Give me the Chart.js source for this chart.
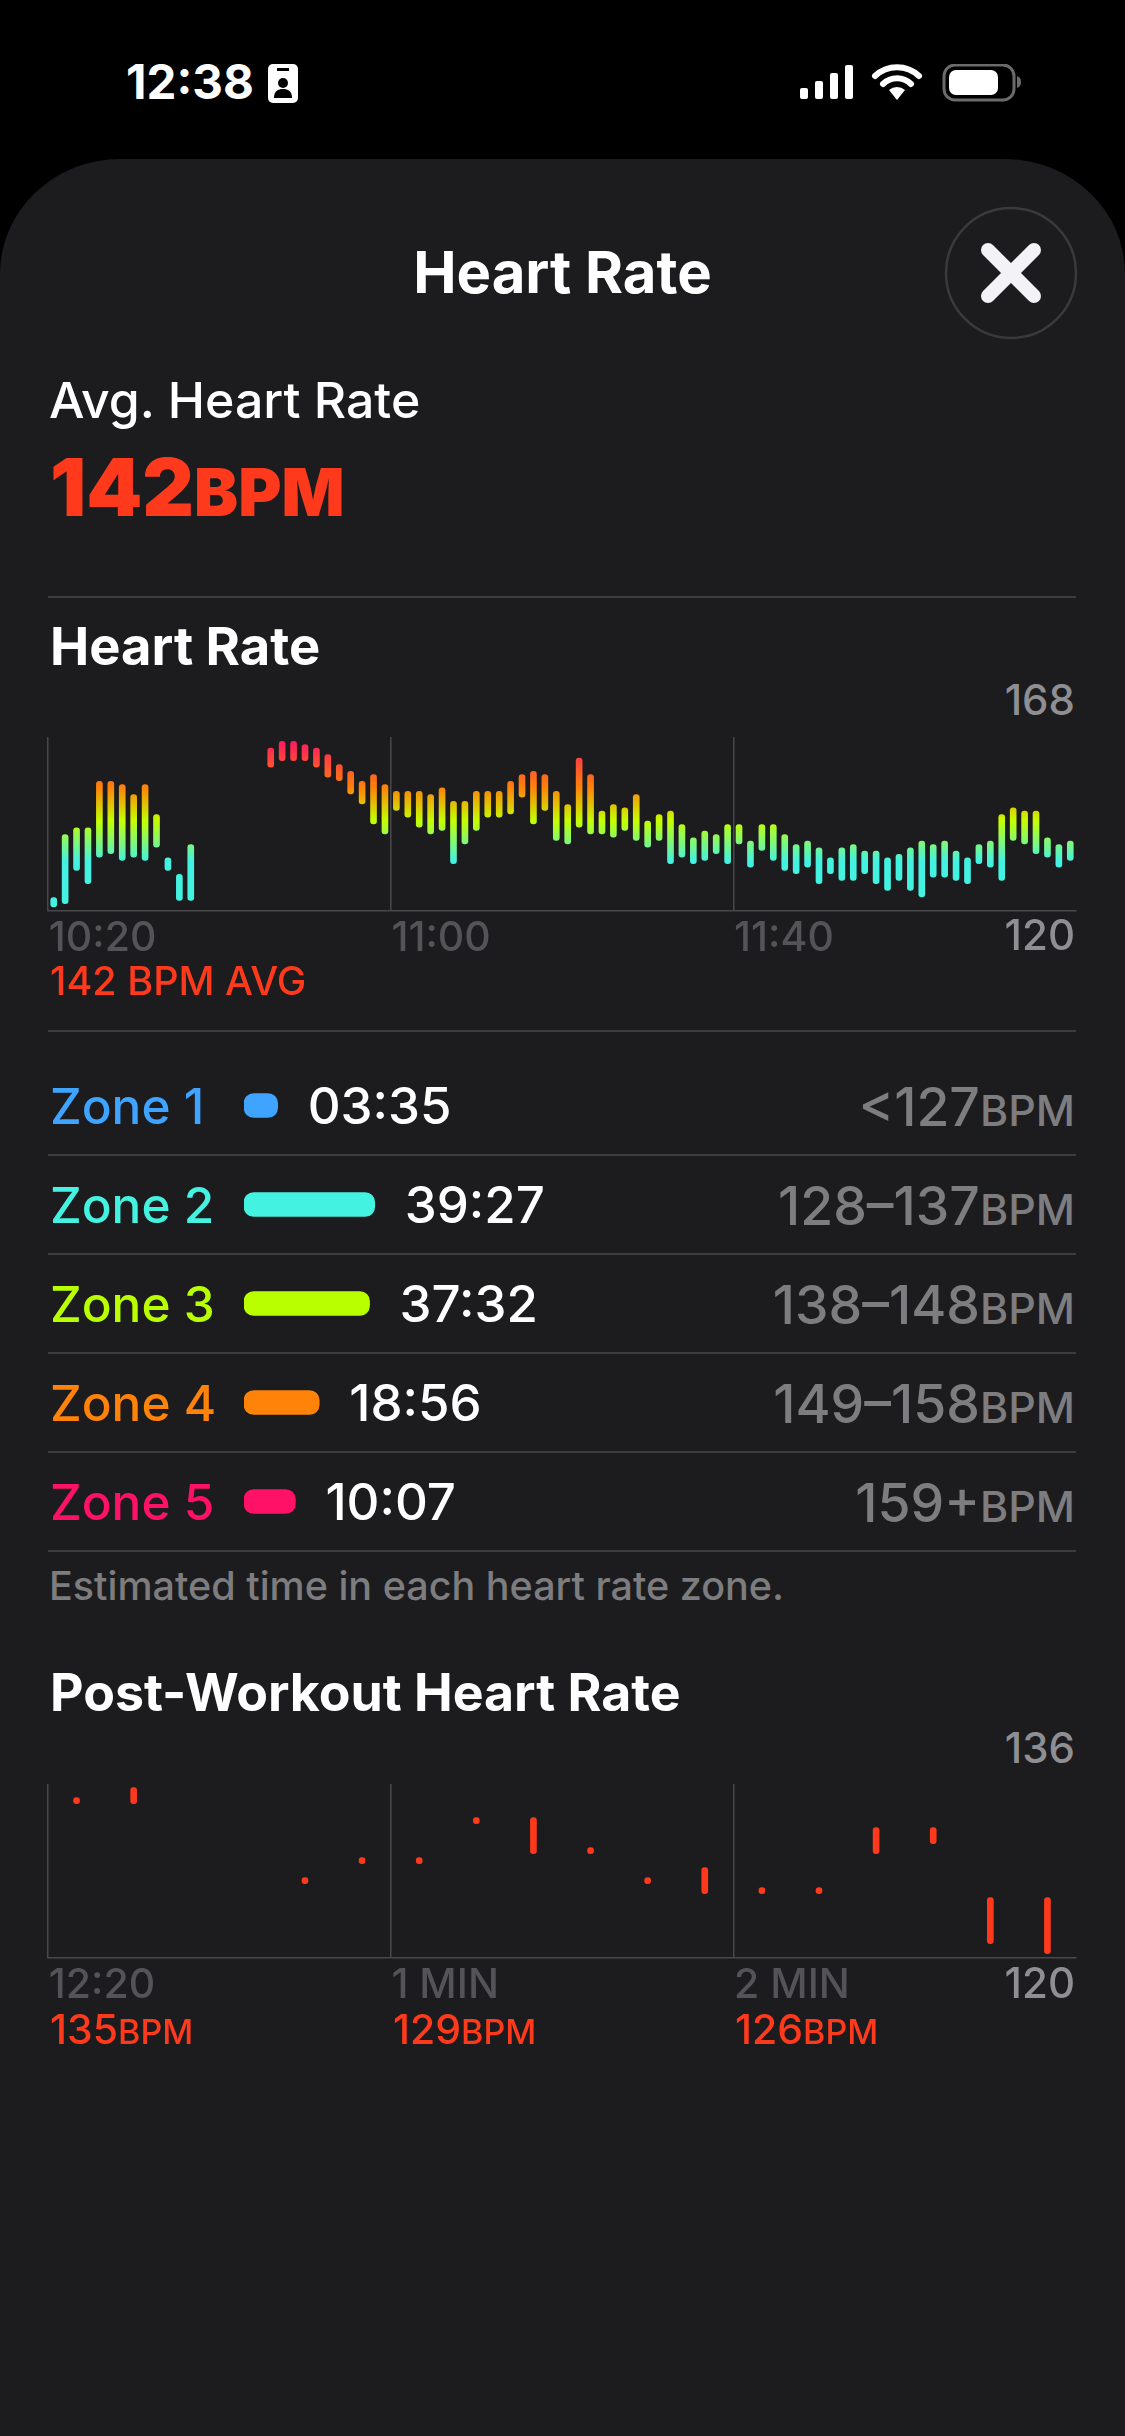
<!DOCTYPE html>
<html lang="en">
<head>
  <meta charset="UTF-8">
  <title>Heart Rate</title>
  <script src="https://cdn.jsdelivr.net/npm/chart.js"></script>
  <style>
    * { margin: 0; padding: 0; box-sizing: border-box; }
    html, body { width: 1125px; height: 2436px; background: #000; overflow: hidden; font-family: Inter, "Noto Sans", sans-serif; color: #fff; }
    .abs { position: absolute; line-height: 1; white-space: nowrap; }
    .sheet { position: absolute; left: 0; top: 159px; width: 1125px; height: 2277px; background: #1c1c1e; border-radius: 120px 120px 0 0 / 115px 115px 0 0; }
    .rule { position: absolute; left: 48px; width: 1028px; height: 1.5px; background: #3c3c3f; }
    .head { font-size: 52.5px; font-weight: 700; left: 50px; }
    .axis-num { font-size: 42px; font-weight: 500; color: #8e8e93; right: 50px; }
    .red { color: #ff3a1c; font-weight: 500; }
    .chart { position: absolute; left: 0; }
    .zone-name { font-size: 49.5px; font-weight: 500; left: 50px; }
    .zone-range { font-size: 53.5px; font-weight: 500; right: 50px; color: #7d7d80; }
    .zone-range small { font-size: 43px; }
  </style>
</head>
<body>
  <!-- status bar -->
  <div class="abs" style="left:126px;top:58px;font-size:47.5px;font-weight:700;">12:38</div>
  <svg class="abs" style="left:268px;top:64px;" width="30" height="39" viewBox="0 0 30 39">
    <rect width="30" height="39" rx="5" fill="#fff"/>
    <rect x="9" y="4" width="12" height="3" fill="#000"/>
    <circle cx="15" cy="19" r="5" fill="#000"/>
    <path d="M6 34c0-7 4-9 9-9s9 2 9 9z" fill="#000"/>
  </svg>
  <svg class="abs" style="left:798px;top:64px;" width="226" height="38" viewBox="0 0 226 38">
    <rect x="2" y="24" width="8" height="11" rx="2" fill="#fff"/>
    <rect x="17" y="17" width="8" height="18" rx="2" fill="#fff"/>
    <rect x="32" y="9" width="8" height="26" rx="2" fill="#fff"/>
    <rect x="47" y="1" width="8" height="34" rx="2" fill="#fff"/>
    <path d="M77 12a32 32 0 0 1 44 0M85 20a20 20 0 0 1 28 0" fill="none" stroke="#fff" stroke-width="6" stroke-linecap="round"/>
    <path d="M99 36l-8-10a12 12 0 0 1 16 0z" fill="#fff"/>
    <rect x="146" y="1" width="70" height="35" rx="11" fill="none" stroke="#6b6b6b" stroke-width="3"/>
    <rect x="151" y="6" width="49" height="25" rx="7" fill="#fff"/>
    <path d="M219 12c3 1 4 3 4 6s-1 5-4 6z" fill="#6b6b6b"/>
  </svg>

  <div class="sheet"></div>

  <div class="abs" style="left:0;width:1125px;text-align:center;top:243px;font-size:58px;font-weight:700;">Heart Rate</div>
  <svg class="abs" style="left:944px;top:206px;" width="134" height="134" viewBox="0 0 134 134">
    <circle cx="67" cy="67" r="65" fill="#1c1c1e" stroke="#3a3a3c" stroke-width="2.5"/>
    <path d="M44 44L90 90M90 44L44 90" stroke="#f2f2f7" stroke-width="14" stroke-linecap="round"/>
  </svg>

  <div class="abs" style="left:49px;top:375px;font-size:50px;font-weight:500;">Avg. Heart Rate</div>
  <div class="abs" style="left:50px;top:447px;font-size:80px;font-weight:900;color:#ff3a1c;">142<span style="font-size:66px;">BPM</span></div>
  <div class="rule" style="top:596px;"></div>

  <div class="abs head" style="top:620px;">Heart Rate</div>
  <div class="abs axis-num" id="hrMaxLabel" style="top:679px;"></div>
  <div class="chart" style="top:737px;"><canvas id="hrChart" width="1125" height="224"></canvas></div>
  <div class="abs axis-num" id="hrMinLabel" style="top:914px;"></div>
  <div class="abs red" style="left:50px;top:962px;font-size:39.5px;">142 BPM AVG</div>
  <div class="rule" style="top:1030px;"></div>

  <div id="zoneRows"></div>
  <div class="chart" style="top:1056px;"><canvas id="zoneChart" width="1125" height="495"></canvas></div>
  <div class="abs" style="left:49px;top:1567px;font-size:39.5px;font-weight:500;color:#7d7d80;">Estimated time in each heart rate zone.</div>

  <div class="abs head" style="top:1667px;font-size:51.8px;">Post-Workout Heart Rate</div>
  <div class="abs axis-num" id="postMaxLabel" style="top:1727px;"></div>
  <div class="chart" style="top:1784px;"><canvas id="postChart" width="1125" height="224"></canvas></div>
  <div class="abs axis-num" id="postMinLabel" style="top:1962px;"></div>
  <div id="postReadings"></div>

  <script>
    // heart rate, one low/high pair every slot (gap in the middle = no reading)
    const hrHigh = [121,140,142,142,156,156,155,152,155,146,133,128,137,null,null,null,null,null,null,166,168,168,167,166,164,161,159,156,158,155,153,153,153,152,154,150,150,153,153,153,156,158,159,158,153,149,163,158,147,149,148,152,144,146,147,143,139,141,140,143,143,138,143,143,140,137,138,136,133,136,137,135,135,133,134,136,138,137,138,135,133,137,138,146,148,147,147,139,137,138];
    const hrLow = [120,121,131,127,135,136,134,135,134,138,131,122,122,null,null,null,null,null,null,162,164,164,164,162,159,158,154,151,145,142,149,147,144,142,143,133,139,143,147,147,148,153,145,149,140,139,144,142,142,141,143,140,138,140,133,135,133,134,136,133,139,132,137,134,131,130,132,127,130,128,128,130,127,125,128,125,123,129,129,128,127,133,132,128,140,139,136,135,132,134];
    const hrTickLabels = ['10:20', '11:00', '11:40'];
    const hrRangeLabels = ['168', '120'];

    // post workout, a reading every fifth slot
    const postSlots = [2,7,22,27,32,37,42,47,52,57,62,67,72,77,82,87];
    const postHigh = [135,136,127,129,129,133,133,130,127,128,126,126,132,132,125,125];
    const postLow = [135,135,127,129,129,133,130,130,127,126,126,126,130,131,121,120];
    const postTickLabels = ['12:20', '1 MIN', '2 MIN'];
    const postRangeLabels = ['136', '120'];
    const postReadings = ['135', '129', '126'];

    // zones
    const zoneNames = ['Zone 1', 'Zone 2', 'Zone 3', 'Zone 4', 'Zone 5'];
    const zoneTimes = ['03:35', '39:27', '37:32', '18:56', '10:07'];
    const zoneSeconds = [215, 2367, 2252, 1136, 607];
    const zoneRanges = ['<127', '128–137', '138–148', '149–158', '159+'];
    const zoneColors = ['#3ea4ff', '#44f2e1', '#baff00', '#ff8209', '#ff1168'];

    const slotCount = 90;
    const tickEvery = 30;
    const capBpmHr = 0.9;    // rounded cap sits outside the reading
    const capBpmPost = 0.3;

    const gridColor = '#48484b';
    const tickColor = '#545458';
    const tickFont = { family: 'Inter', size: 41, weight: '500' };

    document.getElementById('hrMaxLabel').textContent = hrRangeLabels[0];
    document.getElementById('hrMinLabel').textContent = hrRangeLabels[1];
    document.getElementById('postMaxLabel').textContent = postRangeLabels[0];
    document.getElementById('postMinLabel').textContent = postRangeLabels[1];

    // zone rows behind the chart
    const zoneRows = document.getElementById('zoneRows');
    zoneNames.forEach((name, i) => {
      zoneRows.innerHTML +=
        `<div class="abs zone-name" style="top:${1082 + i * 99}px;color:${zoneColors[i]};">${name}</div>` +
        `<div class="abs zone-range" style="top:${1080 + i * 99}px;">${zoneRanges[i].replace('<', '&lt;')}<small>BPM</small></div>` +
        `<div class="rule" style="top:${1154 + i * 99}px;"></div>`;
    });

    const readings = document.getElementById('postReadings');
    postReadings.forEach((r, i) => {
      const left = [50, 393, 735][i];
      readings.innerHTML += `<div class="abs red" style="left:${left}px;top:2009px;font-size:41px;">${r}<span style="font-size:34px;">BPM</span></div>`;
    });

    function slotLabels() {
      return Array.from({ length: slotCount }, (_, i) => i);
    }

    function xAxis(tickLabels) {
      return {
        offset: true,
        border: { display: true, color: gridColor, width: 1.5 },
        grid: {
          offset: true,
          drawTicks: false,
          lineWidth: 1.5,
          color: c => (c.index % tickEvery === 0 && c.index < slotCount) ? gridColor : 'transparent'
        },
        afterFit: s => { s.height = 50; },
        ticks: {
          autoSkip: false,
          maxRotation: 0,
          minRotation: 0,
          align: 'start',
          padding: 3,
          labelOffset: -5,
          color: tickColor,
          font: tickFont,
          callback: (v, i) => (i % tickEvery === 0 ? tickLabels[i / tickEvery] : '')
        }
      };
    }

    let hrGradient;
    function hrColor(c) {
      const { chart } = c;
      if (!chart.chartArea) return '#44f2e1';
      if (!hrGradient) {
        const y = chart.scales.y;
        const top = y.getPixelForValue(170);
        const bottom = y.getPixelForValue(120);
        const stop = v => (y.getPixelForValue(v) - top) / (bottom - top);
        hrGradient = chart.ctx.createLinearGradient(0, top, 0, bottom);
        hrGradient.addColorStop(0, '#ff1168');
        hrGradient.addColorStop(stop(155), '#ff8209');
        hrGradient.addColorStop(stop(145), '#c4ff00');
        hrGradient.addColorStop(stop(133), '#44f2e1');
        hrGradient.addColorStop(1, '#44f2e1');
      }
      return hrGradient;
    }

    new Chart(document.getElementById('hrChart'), {
      type: 'bar',
      data: {
        labels: slotLabels(),
        datasets: [{
          data: hrHigh.map((h, i) => (h === null ? null : [hrLow[i] - capBpmHr, h + capBpmHr])),
          backgroundColor: hrColor,
          barThickness: 6,
          borderRadius: 3,
          borderSkipped: false
        }]
      },
      options: {
        responsive: false,
        animation: false,
        layout: { padding: { left: 48, right: 49 } },
        plugins: { legend: { display: false }, tooltip: { enabled: false } },
        scales: {
          x: xAxis(hrTickLabels),
          y: { display: false, min: 117.9, max: 170.2 }
        }
      }
    });

    const postData = new Array(slotCount).fill(null);
    postSlots.forEach((slot, i) => {
      postData[slot] = [postLow[i] - capBpmPost, postHigh[i] + capBpmPost];
    });

    new Chart(document.getElementById('postChart'), {
      type: 'bar',
      data: {
        labels: slotLabels(),
        datasets: [{
          data: postData,
          backgroundColor: '#ff3a1c',
          barThickness: 6,
          borderRadius: 3,
          borderSkipped: false
        }]
      },
      options: {
        responsive: false,
        animation: false,
        layout: { padding: { left: 48, right: 49 } },
        plugins: { legend: { display: false }, tooltip: { enabled: false } },
        scales: {
          x: xAxis(postTickLabels),
          y: { display: false, min: 119.27, max: 136.67 }
        }
      }
    });

    // the duration follows the end of each zone bar
    const zoneTimePlugin = {
      id: 'zoneTime',
      afterDatasetsDraw(chart) {
        const ctx = chart.ctx;
        ctx.save();
        ctx.font = '500 51px Inter';
        ctx.fillStyle = '#fff';
        ctx.textBaseline = 'alphabetic';
        chart.getDatasetMeta(0).data.forEach((bar, i) => {
          ctx.fillText(zoneTimes[i], bar.x + 30, bar.y + 18);
        });
        ctx.restore();
      }
    };

    new Chart(document.getElementById('zoneChart'), {
      type: 'bar',
      data: {
        labels: zoneNames,
        datasets: [{
          data: zoneSeconds,
          base: -532,
          backgroundColor: zoneColors,
          barThickness: 24,
          borderRadius: 10,
          borderSkipped: false
        }]
      },
      options: {
        indexAxis: 'y',
        responsive: false,
        animation: false,
        layout: { padding: { left: 244 } },
        plugins: { legend: { display: false }, tooltip: { enabled: false } },
        scales: {
          x: { display: false, min: -532, max: 19000 },
          y: { display: false }
        }
      },
      plugins: [zoneTimePlugin]
    });
  </script>
</body>
</html>
